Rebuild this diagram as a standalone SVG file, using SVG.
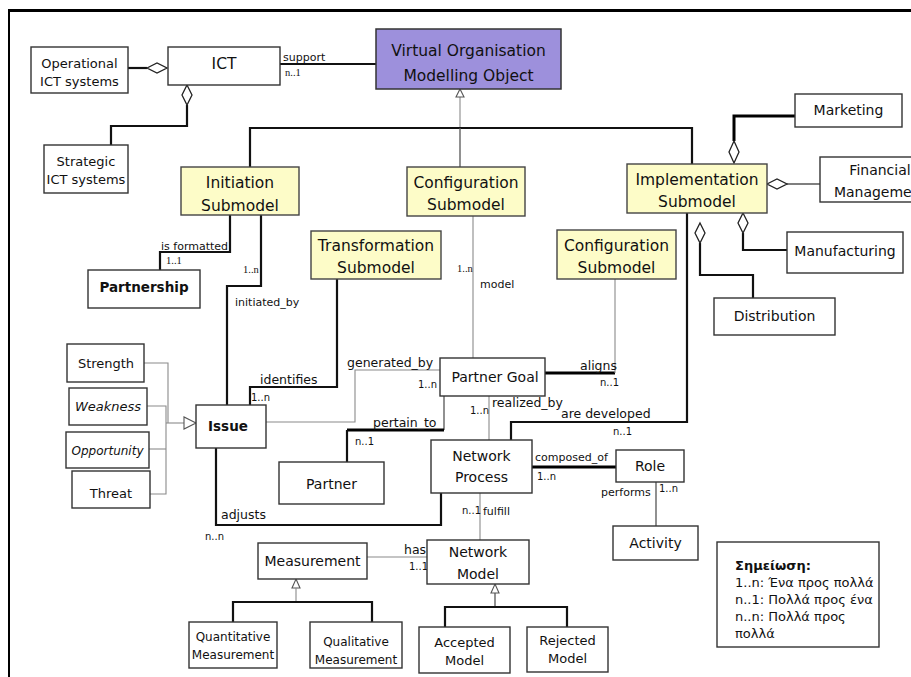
<svg xmlns="http://www.w3.org/2000/svg" width="911" height="677" viewBox="0 0 911 677">
  <style>
    text { font-family: "DejaVu Sans", "Noto Sans", sans-serif; fill: #111; }
    .box { fill: #fff; stroke: #333; stroke-width: 1.4; }
    .sub { fill: #fdfcc8; stroke: #444; stroke-width: 1.4; }
    .top { fill: #9d90dc; stroke: #333; stroke-width: 1.5; }
    .t16 { font-size: 15.5px; text-anchor: middle; }
    .t14 { font-size: 14px; text-anchor: middle; }
    .t13 { font-size: 13px; text-anchor: middle; }
    .t12 { font-size: 12px; text-anchor: middle; }
    .lbl { font-size: 12.5px; }
    .sm { font-size: 11px; }
    .mul { font-size: 10px; }
    .ser { font-family: "Liberation Serif", serif; font-size: 10.5px; }
    .ln { fill: none; stroke: #555; stroke-width: 1.3; }
    .thin { fill: none; stroke: #8a8a8a; stroke-width: 1.1; }
    .thk { fill: none; stroke: #111; stroke-width: 2.2; }
    .xthk { fill: none; stroke: #000; stroke-width: 3; }
    .dia { fill: #fff; stroke: #222; stroke-width: 1.3; }
    .tri { fill: #fff; stroke: #555; stroke-width: 1.1; }
    .note { font-size: 13px; }
  </style>

  <!-- frame -->
  <line x1="8" y1="10.5" x2="911" y2="10.5" stroke="#000" stroke-width="3"/>
  <line x1="9" y1="10" x2="9" y2="677" stroke="#000" stroke-width="2"/>

  <!-- connectors -->
  <g id="connectors">
    <!-- ICT aggregations -->
    <path class="thk" d="M128,68 H147"/>
    <path class="dia" d="M147,68 L157,63 L167,68 L157,73 Z"/>
    <path class="thk" d="M187,105 V126 H111 V145"/>
    <path class="dia" d="M187,85 L192,95 L187,105 L182,95 Z"/>
    <path class="thk" d="M280,64 H376" stroke-width="1.6"/>

    <!-- VOMO generalisation -->
    <path class="thin" d="M460,97 V128"/>
    <path class="tri" d="M460,89 L464,97 L456,97 Z"/>
    <path class="thk" d="M250,167 V128 H692 V164"/>
    <path class="ln" d="M460,128 V167"/>

    <!-- Implementation aggregations -->
    <path class="xthk" d="M795,116 H734 V141" stroke-width="2.5"/>
    <path class="dia" d="M734,141 L739,152 L734,163 L729,152 Z"/>
    <path class="ln" d="M787,184 H820" stroke-width="1.6"/>
    <path class="dia" d="M767,184 L777,179 L787,184 L777,189 Z"/>
    <path class="thk" d="M743,233 V250 H787"/>
    <path class="dia" d="M743,213 L748,223 L743,233 L738,223 Z"/>
    <path class="thk" d="M700,243 V275 H753 V298"/>
    <path class="dia" d="M700,223 L705,233 L700,243 L695,233 Z"/>
    <path class="thk" d="M687,213 V422 H511 V440"/>

    <!-- Initiation links -->
    <path class="thk" d="M230,215 V252 H160 V270"/>
    <path class="thk" d="M261,215 V286 H227 V405"/>

    <!-- Transformation link -->
    <path class="thk" d="M337,279 V387 H250 V405"/>

    <!-- Issue / Partner Goal -->
    <path class="thin" d="M266,422 H355 V370 H440"/>
    <path class="thin" d="M473,216 V358"/>
    <path class="xthk" d="M545,373 H615"/>
    <path class="thin" d="M615,373 V279"/>
    <path class="ln" d="M444,396 V430" stroke-width="1.8"/>
    <path class="xthk" d="M444,430 H347"/>
    <path class="thk" d="M347,430 V462" stroke-width="1.8"/>
    <path class="thin" d="M489,396 V440"/>

    <!-- Network Process links -->
    <path class="xthk" d="M532,467 H616" stroke-width="2.5"/>
    <path class="ln" d="M656,482 V526" stroke-width="1.6"/>
    <path class="thin" d="M480,493 V540"/>
    <path class="thk" d="M216,448 V525 H441 V493"/>
    <path class="thin" d="M367,557 H427"/>

    <!-- Measurement generalisation -->
    <path class="tri" d="M296,579 L300,588 L292,588 Z"/>
    <path class="thin" d="M296,588 V602"/>
    <path class="thk" d="M233,622 V602 H372 V622" stroke-width="1.8"/>

    <!-- Network Model generalisation -->
    <path class="tri" d="M495,584 L499,593 L491,593 Z"/>
    <path class="ln" d="M495,593 V607"/>
    <path class="thk" d="M445,627 V607 H567 V627" stroke-width="1.8"/>

    <!-- SWOT generalisation -->
    <path class="thin" d="M144,363 H168 V423"/>
    <path class="thin" d="M147,406 H166 V494 H150"/>
    <path class="thin" d="M149,449 H166"/>
    <path class="thin" d="M166,423 H184"/>
    <path class="tri" d="M196,423 L184,417 L184,429 Z"/>
  </g>

  <!-- connector labels -->
  <g id="labels">
    <text class="lbl" x="283" y="61" style="font-size:11px">support</text>
    <text class="ser" x="285" y="76">n..1</text>
    <text class="sm" x="161" y="250">is formatted</text>
    <text class="ser" x="166" y="264">1..1</text>
    <text class="ser" x="243" y="273">1..n</text>
    <text class="sm" x="235" y="306">initiated_by</text>
    <text class="lbl" x="260" y="384">identifies</text>
    <text class="mul" x="251" y="401">1..n</text>
    <text class="lbl" x="347" y="367">generated_by</text>
    <text class="mul" x="418" y="388">1..n</text>
    <text class="ser" x="457" y="272">1..n</text>
    <text class="sm" x="480" y="288">model</text>
    <text class="lbl" x="580" y="370">aligns</text>
    <text class="mul" x="600" y="386">n..1</text>
    <text class="lbl" x="373" y="427">pertain_to</text>
    <text class="mul" x="355" y="445">n..1</text>
    <text class="mul" x="470" y="414">1..n</text>
    <text class="lbl" x="492" y="407">realized_by</text>
    <text class="lbl" x="561" y="418">are developed</text>
    <text class="mul" x="613" y="435">n..1</text>
    <text class="sm" x="535" y="461">composed_of</text>
    <text class="mul" x="537" y="480">1..n</text>
    <text class="sm" x="601" y="496">performs</text>
    <text class="mul" x="659" y="492">1..n</text>
    <text class="mul" x="462" y="514">n..1</text>
    <text class="sm" x="483" y="515">fulfill</text>
    <text class="lbl" x="221" y="519">adjusts</text>
    <text class="mul" x="205" y="540">n..n</text>
    <text class="lbl" x="404" y="554">has</text>
    <text class="mul" x="409" y="570">1..1</text>
  </g>

  <!-- nodes -->
  <g id="operational-ict">
    <rect class="box" x="31" y="47" width="97" height="46"/>
    <text class="t13" x="79.5" y="68">Operational</text>
    <text class="t13" x="79.5" y="86">ICT systems</text>
  </g>
  <g id="ict">
    <rect class="box" x="168" y="47" width="112" height="38"/>
    <text class="t16" x="224" y="69">ICT</text>
  </g>
  <g id="strategic-ict">
    <rect class="box" x="44" y="145" width="84" height="48"/>
    <text class="t13" x="86" y="166">Strategic</text>
    <text class="t13" x="86" y="184">ICT systems</text>
  </g>
  <g id="vomo">
    <rect class="top" x="376" y="29" width="185" height="60"/>
    <text class="t16" x="468.5" y="56">Virtual Organisation</text>
    <text class="t16" x="468.5" y="81">Modelling Object</text>
  </g>
  <g id="initiation">
    <rect class="sub" x="181" y="167" width="118" height="48"/>
    <text class="t16" x="240" y="188">Initiation</text>
    <text class="t16" x="240" y="211">Submodel</text>
  </g>
  <g id="configuration-1">
    <rect class="sub" x="407" y="167" width="118" height="49"/>
    <text class="t16" x="466" y="188">Configuration</text>
    <text class="t16" x="466" y="210">Submodel</text>
  </g>
  <g id="implementation">
    <rect class="sub" x="627" y="164" width="140" height="49"/>
    <text class="t16" x="697" y="185">Implementation</text>
    <text class="t16" x="697" y="207">Submodel</text>
  </g>
  <g id="marketing">
    <rect class="box" x="795" y="94" width="107" height="33"/>
    <text class="t14" x="848.5" y="115">Marketing</text>
  </g>
  <g id="financial">
    <rect class="box" x="820" y="157" width="120" height="45"/>
    <text class="t14" x="880" y="175">Financial</text>
    <text class="t14" x="880" y="197">Management</text>
  </g>
  <g id="manufacturing">
    <rect class="box" x="787" y="232" width="116" height="41"/>
    <text class="t14" x="845" y="256">Manufacturing</text>
  </g>
  <g id="distribution">
    <rect class="box" x="714" y="298" width="121" height="37"/>
    <text class="t14" x="774.5" y="321">Distribution</text>
  </g>
  <g id="transformation">
    <rect class="sub" x="311" y="231" width="130" height="48"/>
    <text class="t16" x="376" y="251">Transformation</text>
    <text class="t16" x="376" y="273">Submodel</text>
  </g>
  <g id="configuration-2">
    <rect class="sub" x="557" y="230" width="119" height="49"/>
    <text class="t16" x="616.5" y="251">Configuration</text>
    <text class="t16" x="616.5" y="273">Submodel</text>
  </g>
  <g id="partnership">
    <rect class="box" x="88" y="270" width="112" height="38"/>
    <text class="t14" x="144" y="292" font-weight="bold" style="font-size:13.5px">Partnership</text>
  </g>
  <g id="strength">
    <rect class="box" x="67" y="344" width="77" height="38" stroke="#777"/>
    <text class="t13" x="106" y="368">Strength</text>
  </g>
  <g id="weakness">
    <rect class="box" x="69" y="388" width="78" height="37"/>
    <text class="t13" x="108" y="411" font-style="italic">Weakness</text>
  </g>
  <g id="opportunity">
    <rect class="box" x="66" y="432" width="83" height="36"/>
    <text class="t12" x="107.5" y="455" font-style="italic">Opportunity</text>
  </g>
  <g id="threat">
    <rect class="box" x="72" y="471" width="78" height="37"/>
    <text class="t13" x="111" y="498">Threat</text>
  </g>
  <g id="issue">
    <rect class="box" x="196" y="405" width="70" height="43"/>
    <text class="t14" x="228" y="431" font-weight="bold" style="font-size:13.5px">Issue</text>
  </g>
  <g id="partner-goal">
    <rect class="box" x="440" y="358" width="105" height="38"/>
    <text class="t14" x="495" y="382">Partner Goal</text>
  </g>
  <g id="partner">
    <rect class="box" x="279" y="462" width="105" height="42"/>
    <text class="t14" x="331.5" y="489">Partner</text>
  </g>
  <g id="network-process">
    <rect class="box" x="431" y="440" width="101" height="53"/>
    <text class="t14" x="481.5" y="461">Network</text>
    <text class="t14" x="481.5" y="482">Process</text>
  </g>
  <g id="role">
    <rect class="box" x="616" y="450" width="68" height="32"/>
    <text class="t14" x="650" y="471">Role</text>
  </g>
  <g id="activity">
    <rect class="box" x="613" y="526" width="85" height="34"/>
    <text class="t14" x="655.5" y="548">Activity</text>
  </g>
  <g id="network-model">
    <rect class="box" x="427" y="540" width="102" height="44"/>
    <text class="t14" x="478" y="557">Network</text>
    <text class="t14" x="478" y="579">Model</text>
  </g>
  <g id="measurement">
    <rect class="box" x="258" y="543" width="109" height="36"/>
    <text class="t14" x="312.5" y="566">Measurement</text>
  </g>
  <g id="quantitative">
    <rect class="box" x="189" y="622" width="88" height="46"/>
    <text class="t12" x="233" y="641">Quantitative</text>
    <text class="t12" x="233" y="659">Measurement</text>
  </g>
  <g id="qualitative">
    <rect class="box" x="310" y="622" width="92" height="46"/>
    <text class="t12" x="356" y="646">Qualitative</text>
    <text class="t12" x="356" y="664">Measurement</text>
  </g>
  <g id="accepted">
    <rect class="box" x="419" y="627" width="91" height="46"/>
    <text class="t13" x="464.5" y="647">Accepted</text>
    <text class="t13" x="464.5" y="665">Model</text>
  </g>
  <g id="rejected">
    <rect class="box" x="527" y="627" width="81" height="45"/>
    <text class="t13" x="567.5" y="645">Rejected</text>
    <text class="t13" x="567.5" y="663">Model</text>
  </g>
  <g id="legend">
    <rect class="box" x="717" y="542" width="162" height="105" stroke-width="1.6"/>
    <text class="note" x="735" y="570" font-weight="bold">Σημείωση:</text>
    <text class="note" x="735" y="587">1..n: Ένα προς πολλά</text>
    <text class="note" x="735" y="604">n..1: Πολλά προς ένα</text>
    <text class="note" x="735" y="621">n..n: Πολλά προς</text>
    <text class="note" x="735" y="638">πολλά</text>
  </g>
</svg>
